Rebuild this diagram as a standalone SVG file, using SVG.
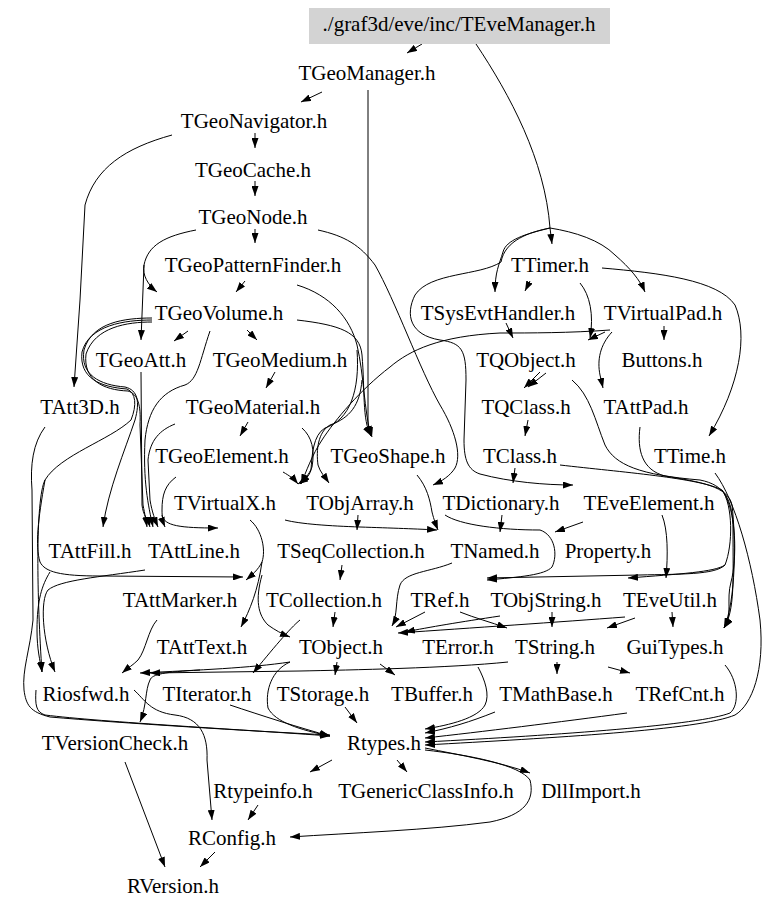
<svg xmlns="http://www.w3.org/2000/svg" width="779" height="911" viewBox="0 0 779 911">
<style>
text{font-family:"Liberation Serif","Times New Roman",serif;font-size:21px;text-anchor:middle;fill:#000}
.e path{fill:none;stroke:#000;stroke-width:1;marker-end:url(#a)}
.e path.t{marker-end:none}
</style>
<defs>
<marker id="a" viewBox="0 0 10 7" refX="10" refY="3.5" markerWidth="10" markerHeight="7" markerUnits="userSpaceOnUse" orient="auto"><path d="M0,0 L10,3.5 L0,7 z" fill="#000"/></marker>
</defs>
<rect width="779" height="911" fill="#fff"/>
<g class="e" id="connectors">
<path d="M422,44 L407,53"/>
<path class="t" d="M476,44 C510,95 545,160 550,228"/>
<path d="M550,228 L552,244"/>
<path d="M550,228 C525,234 506,240 503,252 C499,265 495,272 495,292"/>
<path d="M550,228 C530,232 505,240 501,262 C480,276 430,272 415,295 C405,315 410,335 440,340 C462,343 466,350 466,380 L464,440 C464,460 468,470 480,474 C510,482 545,485 573,485"/>
<path d="M550,228 C575,232 600,240 615,255 C630,268 640,280 645,292"/>
<path d="M322,92 L301,102"/>
<path d="M368,90 L368,424 C369,430 371,433 372,437"/>
<path d="M255,133 L255,148"/>
<path d="M172,135 C125,148 95,168 85,205 L80,300 L74,387"/>
<path d="M255,181 L255,196"/>
<path d="M255,229 L255,243"/>
<path d="M196,230 C165,236 148,245 144,265 C142,275 148,285 157,292"/>
<path d="M144,265 L141,340"/>
<path d="M318,230 C345,236 360,245 375,265 C395,300 420,370 440,405 C455,430 462,455 455,468 C450,476 442,481 433,485"/>
<path d="M245,281 L236,292"/>
<path d="M297,285 C330,295 350,318 357,345 C364,375 364,410 371,436"/>
<path d="M188,331 L174,341"/>
<path d="M247,330 L257,340"/>
<path d="M297,320 C340,325 360,332 362,355 C365,390 362,420 371,436"/>
<path d="M152,318 C125,318 92,322 84,350 C80,375 100,385 125,387 C138,390 140,402 135,420 C125,450 108,490 103,527"/>
<path d="M152,320 C125,320 89,325 82,352 C79,378 100,387 127,389 C136,393 137,405 131,420 C110,440 60,455 45,480 C35,500 37,600 42,672"/>
<path d="M152,322 C127,322 95,327 86,354 C83,380 103,390 128,391 C138,394 141,405 140,425 L143,505 C145,515 146,520 147,527"/>
<path d="M45,480 C38,520 35,545 40,562 C45,572 60,576 100,576 L243,577"/>
<path d="M210,331 C200,360 198,380 185,385 C160,392 148,410 145,440 C143,480 148,505 153,527"/>
<path d="M141,372 L142,505 C143,515 148,520 150,527"/>
<path d="M275,372 L266,388"/>
<path d="M248,422 L240,436"/>
<path d="M175,424 C160,430 150,440 148,460 L150,500 C152,512 155,520 158,527"/>
<path d="M302,428 C312,437 315,450 312,467 C309,475 304,480 298,484"/>
<path d="M176,477 C165,485 162,495 162,510 C162,518 163,522 165,527"/>
<path d="M162,515 C164,526 180,528 218,528"/>
<path d="M283,472 C290,476 294,479 298,484"/>
<path d="M362,380 C360,405 350,418 330,425 C318,432 316,450 318,465 C320,472 325,477 329,483"/>
<path d="M357,350 C360,390 350,420 325,428 C313,435 312,455 311,470 C309,477 304,480 300,484"/>
<path d="M610,330 C570,333 530,333 500,333 C440,336 410,350 390,367 C360,390 335,420 322,440 C312,455 306,472 301,484"/>
<path d="M417,475 C427,487 430,500 432,512 C434,520 436,525 438,530"/>
<path d="M358,515 L357,530"/>
<path d="M285,520 C300,524 330,526 360,527 C390,528 420,529 437,530"/>
<path d="M250,520 C262,530 266,550 262,562 C258,570 252,575 246,580"/>
<path d="M262,562 C258,590 250,610 241,627"/>
<path d="M262,575 C255,600 258,615 268,625 C275,630 282,634 290,637"/>
<path d="M50,572 C42,585 37,600 37,630 C37,650 40,660 42,672"/>
<path d="M145,570 C100,577 60,580 48,590 C40,600 42,640 55,672"/>
<path d="M157,620 C148,630 146,650 138,660 C133,665 128,668 122,673"/>
<path d="M290,662 C250,668 200,670 140,673"/>
<path d="M508,662 C450,668 350,670 300,671 L150,673"/>
<path d="M300,620 C290,628 272,650 253,673"/>
<path d="M335,612 L333,627"/>
<path d="M342,565 L340,580"/>
<path d="M452,563 C430,572 405,572 400,585 C395,600 398,615 392,626"/>
<path d="M425,612 L396,627"/>
<path d="M500,616 C460,622 430,627 405,632"/>
<path d="M625,617 C560,622 470,628 398,633"/>
<path d="M380,664 L395,675"/>
<path d="M337,662 L335,675"/>
<path d="M478,667 C485,680 490,695 485,705 C478,718 450,725 425,729"/>
<path d="M495,712 C470,722 450,728 425,733"/>
<path d="M627,713 C560,722 480,732 425,738"/>
<path d="M725,665 C738,680 740,705 730,713 C700,725 560,735 425,742"/>
<path d="M715,473 C735,500 752,560 760,620 C765,670 752,705 735,715 C700,730 550,738 425,745"/>
<path d="M230,705 C260,715 300,728 330,736"/>
<path d="M290,662 C272,670 265,690 268,708 C275,722 300,730 330,736"/>
<path d="M36,690 C35,705 36,712 45,715 C100,722 250,730 330,736"/>
<path d="M45,427 C33,443 30,465 32,490 L33,620 C30,650 22,670 24,690 C26,705 30,712 50,717 C120,723 250,731 330,735"/>
<path d="M345,707 L357,723"/>
<path d="M200,670 C165,672 152,674 150,680 C145,690 147,705 140,722"/>
<path d="M134,690 C145,700 150,712 175,715 C200,718 208,735 207,760 L212,820"/>
<path d="M332,760 L310,772"/>
<path d="M397,760 L407,772"/>
<path d="M425,748 C460,755 500,762 530,773"/>
<path d="M425,750 C470,755 520,765 530,780 C535,800 525,815 490,822 C430,830 350,833 290,837"/>
<path d="M258,805 L248,820"/>
<path d="M215,852 L200,867"/>
<path d="M125,762 L165,867"/>
<path d="M530,281 L525,291"/>
<path d="M540,372 L524,388"/>
<path d="M546,373 L528,387"/>
<path d="M528,420 L525,436"/>
<path d="M572,380 C590,395 595,420 605,445 C615,465 640,475 700,480 C725,485 733,500 733,530 C733,580 735,610 724,628"/>
<path d="M580,283 C590,295 594,315 590,338"/>
<path d="M612,332 C600,345 597,360 600,375 L603,388"/>
<path d="M664,326 L664,340"/>
<path d="M605,332 L588,340"/>
<path d="M506,323 L513,338"/>
<path d="M602,268 C660,273 718,280 735,305 C748,335 740,385 709,436"/>
<path d="M640,427 C637,450 642,470 665,476 C700,482 728,486 732,505 C736,540 736,600 724,628"/>
<path class="t" d="M560,465 C620,472 700,478 722,490"/>
<path d="M722,490 C733,505 733,545 725,565 C715,575 680,574 640,575 L487,578"/>
<path d="M725,565 C715,572 680,574 628,578"/>
<path d="M722,490 C737,510 737,560 731,582 C726,600 733,615 724,628"/>
<path d="M445,515 C460,525 500,530 540,530 C555,535 558,555 552,567 C545,575 520,577 487,580"/>
<path d="M515,468 L513,483"/>
<path d="M662,515 C668,530 668,555 666,578"/>
<path d="M583,522 L555,532"/>
<path d="M502,515 L500,532"/>
<path d="M672,612 L673,627"/>
<path d="M635,618 L607,628"/>
<path d="M552,612 L552,627"/>
<path d="M460,612 C475,618 490,622 507,628"/>
<path d="M557,662 L557,674"/>
<path d="M608,667 L630,673"/>
</g>
<g id="TEveManager"><rect x="309" y="8" width="301" height="36" fill="#d3d3d3"/><text x="459" y="31">./graf3d/eve/inc/TEveManager.h</text></g>
<g id="TGeoManager"><text x="367" y="80">TGeoManager.h</text></g>
<g id="TGeoNavigator"><text x="254" y="128">TGeoNavigator.h</text></g>
<g id="TGeoCache"><text x="253" y="177">TGeoCache.h</text></g>
<g id="TGeoNode"><text x="253" y="224">TGeoNode.h</text></g>
<g id="TGeoPatternFinder"><text x="253" y="272">TGeoPatternFinder.h</text></g>
<g id="TTimer"><text x="550" y="272">TTimer.h</text></g>
<g id="TGeoVolume"><text x="219" y="320">TGeoVolume.h</text></g>
<g id="TSysEvtHandler"><text x="498" y="320">TSysEvtHandler.h</text></g>
<g id="TVirtualPad"><text x="663" y="320">TVirtualPad.h</text></g>
<g id="TGeoAtt"><text x="141" y="367">TGeoAtt.h</text></g>
<g id="TGeoMedium"><text x="280" y="367">TGeoMedium.h</text></g>
<g id="TQObject"><text x="526" y="367">TQObject.h</text></g>
<g id="Buttons"><text x="662" y="367">Buttons.h</text></g>
<g id="TAtt3D"><text x="80" y="414">TAtt3D.h</text></g>
<g id="TGeoMaterial"><text x="253" y="414">TGeoMaterial.h</text></g>
<g id="TQClass"><text x="526" y="414">TQClass.h</text></g>
<g id="TAttPad"><text x="646" y="414">TAttPad.h</text></g>
<g id="TGeoElement"><text x="222" y="463">TGeoElement.h</text></g>
<g id="TGeoShape"><text x="388" y="463">TGeoShape.h</text></g>
<g id="TClass"><text x="520" y="463">TClass.h</text></g>
<g id="TTime"><text x="690" y="463">TTime.h</text></g>
<g id="TVirtualX"><text x="225" y="510">TVirtualX.h</text></g>
<g id="TObjArray"><text x="360" y="510">TObjArray.h</text></g>
<g id="TDictionary"><text x="501" y="510">TDictionary.h</text></g>
<g id="TEveElement"><text x="649" y="510">TEveElement.h</text></g>
<g id="TAttFill"><text x="90" y="558">TAttFill.h</text></g>
<g id="TAttLine"><text x="194" y="558">TAttLine.h</text></g>
<g id="TSeqCollection"><text x="351" y="558">TSeqCollection.h</text></g>
<g id="TNamed"><text x="495" y="558">TNamed.h</text></g>
<g id="Property"><text x="608" y="558">Property.h</text></g>
<g id="TAttMarker"><text x="180" y="607">TAttMarker.h</text></g>
<g id="TCollection"><text x="324" y="607">TCollection.h</text></g>
<g id="TRef"><text x="440" y="607">TRef.h</text></g>
<g id="TObjString"><text x="546" y="607">TObjString.h</text></g>
<g id="TEveUtil"><text x="670" y="607">TEveUtil.h</text></g>
<g id="TAttText"><text x="202" y="654">TAttText.h</text></g>
<g id="TObject"><text x="341" y="654">TObject.h</text></g>
<g id="TError"><text x="458" y="654">TError.h</text></g>
<g id="TString"><text x="555" y="654">TString.h</text></g>
<g id="GuiTypes"><text x="675" y="654">GuiTypes.h</text></g>
<g id="Riosfwd"><text x="86" y="701">Riosfwd.h</text></g>
<g id="TIterator"><text x="207" y="701">TIterator.h</text></g>
<g id="TStorage"><text x="323" y="701">TStorage.h</text></g>
<g id="TBuffer"><text x="432" y="701">TBuffer.h</text></g>
<g id="TMathBase"><text x="556" y="701">TMathBase.h</text></g>
<g id="TRefCnt"><text x="680" y="701">TRefCnt.h</text></g>
<g id="TVersionCheck"><text x="115" y="750">TVersionCheck.h</text></g>
<g id="Rtypes"><text x="384" y="750">Rtypes.h</text></g>
<g id="Rtypeinfo"><text x="263" y="798">Rtypeinfo.h</text></g>
<g id="TGenericClassInfo"><text x="426" y="798">TGenericClassInfo.h</text></g>
<g id="DllImport"><text x="591" y="798">DllImport.h</text></g>
<g id="RConfig"><text x="232" y="845">RConfig.h</text></g>
<g id="RVersion"><text x="173" y="893">RVersion.h</text></g>
</svg>
